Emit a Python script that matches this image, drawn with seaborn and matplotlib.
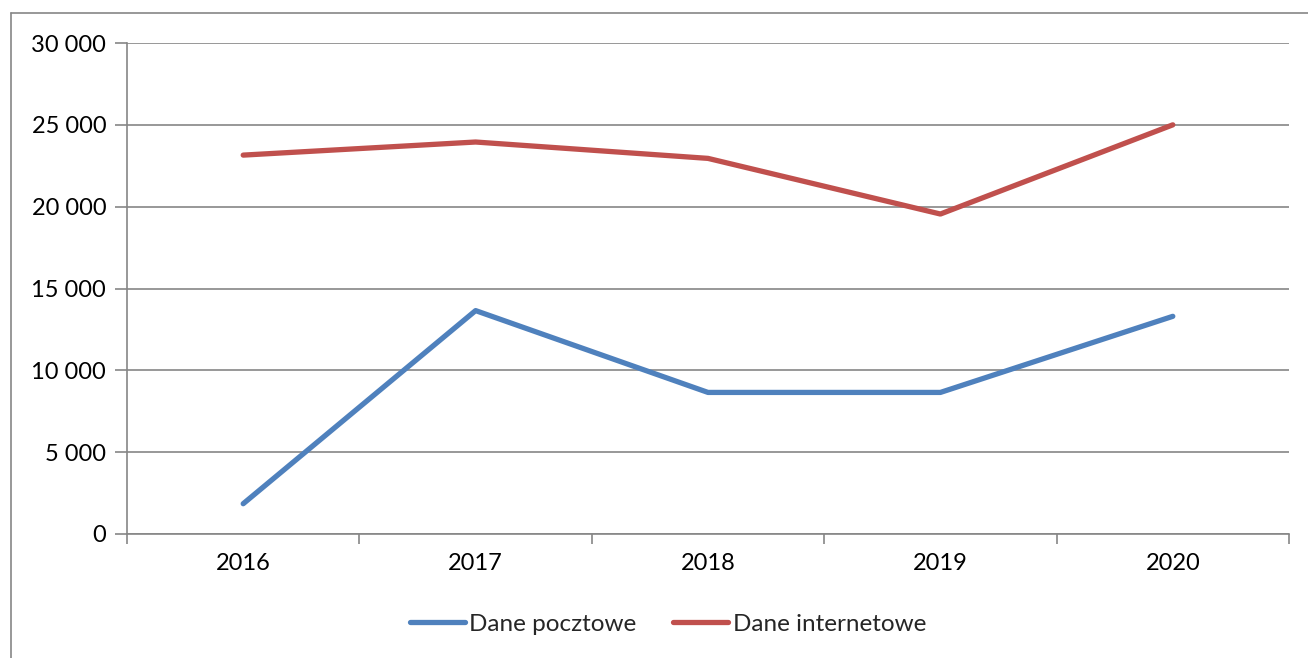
import matplotlib
matplotlib.use("Agg")
import matplotlib.pyplot as plt
import seaborn as sns
import pandas as pd
from matplotlib.lines import Line2D
from matplotlib.ticker import FuncFormatter

years = ["2016", "2017", "2018", "2019", "2020"]
dane_pocztowe = [1850, 13650, 8650, 8650, 13300]
dane_internetowe = [23150, 23950, 22950, 19550, 25000]
series_names = ["Dane pocztowe", "Dane internetowe"]
colors = ["#4F81BD", "#C0504D"]

sns.set_theme(style="white")
plt.rcParams["font.family"] = ["Lato", "DejaVu Sans"]

rows = []
for name, vals in zip(series_names, [dane_pocztowe, dane_internetowe]):
    for i, v in enumerate(vals):
        rows.append({"pos": i, "value": v, "series": name})
df = pd.DataFrame(rows)

fig = plt.figure(figsize=(13.08, 6.58), dpi=100)
ax = fig.add_axes([127/1308, 1-534/658, (1289-127)/1308, (534-43)/658])

sns.lineplot(data=df, x="pos", y="value", hue="series", hue_order=series_names,
             palette=colors, linewidth=3.8, ax=ax, legend=False,
             solid_capstyle="round")

grid_c = "#868686"
ax.set_xlim(-0.5, 4.5)
ax.set_ylim(0, 30000)
ax.set_yticks(range(0, 30001, 5000))
ax.yaxis.set_major_formatter(FuncFormatter(lambda v, p: f"{int(v):,}".replace(",", " ")))
ax.yaxis.grid(True, color=grid_c, linewidth=1.2)
ax.xaxis.grid(False)
ax.set_axisbelow(True)

ax.set_xticks([i - 0.5 for i in range(6)])
ax.set_xticklabels([""] * 6)
ax.set_xticks(range(5), minor=True)
ax.set_xticklabels(years, minor=True)
ax.tick_params(axis="x", which="major", direction="out", length=7, width=1.2, color=grid_c, bottom=True)
ax.tick_params(axis="x", which="minor", length=0, pad=14, labelsize=17, labelcolor="black")
ax.tick_params(axis="y", which="major", direction="out", length=9, width=1.2, color=grid_c, left=True,
               labelsize=17, labelcolor="black", pad=6)
ax.set_xlabel("")
ax.set_ylabel("")

for s in ["top", "right"]:
    ax.spines[s].set_visible(False)
for s in ["left", "bottom"]:
    ax.spines[s].set_color(grid_c)
    ax.spines[s].set_linewidth(1.2)

handles = [Line2D([0], [0], color=c, linewidth=3.8, solid_capstyle="round") for c in colors]
fig.legend(handles, series_names, loc="center", bbox_to_anchor=(668/1308, 1-624/658),
           ncol=2, frameon=False, fontsize=17.5, handlelength=2.25, handletextpad=0.2,
           columnspacing=1.5)

# outer chart frame (left and top visible)
fig.add_artist(Line2D([11/1308, 11/1308], [0, 1-13/658], transform=fig.transFigure,
                      color=grid_c, linewidth=1.2))
fig.add_artist(Line2D([11/1308, 1], [1-13/658, 1-13/658], transform=fig.transFigure,
                      color=grid_c, linewidth=1.2))

fig.savefig("out.png", dpi=100)
